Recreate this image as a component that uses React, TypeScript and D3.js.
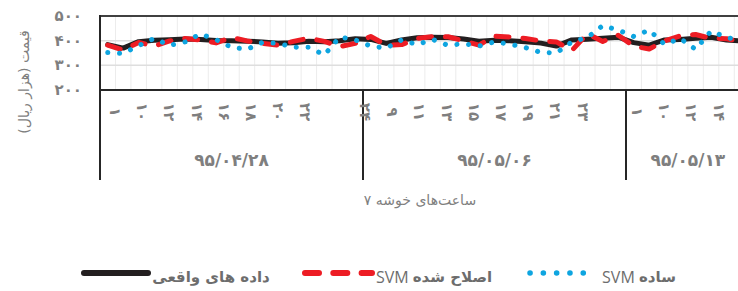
import React from "react";
import * as d3 from "d3";

// ---- data ----
const dates = ["۹۵/۰۴/۲۸", "۹۵/۰۵/۰۶", "۹۵/۰۵/۱۳"];
const hoursPerDate = [17, 17, 8];
const hourLabelsDay1 = ["۱", "۱۰", "۱۲", "۱۴", "۱۶", "۱۸", "۲۰", "۲۲"];
const hourLabelsDay2 = ["۲۴", "۹", "۱۱", "۱۳", "۱۵", "۱۷", "۱۹", "۲۱", "۲۳"];
const hourLabelsDay3 = ["۱", "۱۰", "۱۲", "۱۴"];
const yTicks = [200, 300, 400, 500];

const actual = [384, 370, 396, 402, 404, 407, 405, 401, 400, 398, 395, 390, 392, 398, 396, 400, 408, 405, 389, 403, 412, 414, 413, 407, 398, 402, 400, 396, 390, 378, 403, 406, 410, 414, 392, 382, 403, 405, 410, 414, 403, 398];
const svmCorrected = [382, 362, 393, 378, 399, 409, 403, 391, 413, 399, 389, 382, 397, 410, 397, 376, 389, 417, 382, 384, 409, 416, 416, 399, 382, 418, 415, 409, 399, 395, 360, 428, 397, 422, 378, 366, 399, 419, 425, 409, 408, 395];
const svmSimple = [352, 348, 380, 409, 381, 395, 427, 404, 373, 365, 393, 389, 374, 373, 342, 415, 403, 378, 370, 403, 384, 405, 381, 388, 378, 395, 386, 372, 352, 350, 395, 413, 461, 443, 417, 443, 385, 409, 365, 439, 413, 399];

const toFa = (n: number) => String(n).replace(/\d/g, (d) => "۰۱۲۳۴۵۶۷۸۹"[+d]);

// ---- layout ----
const W = 738, H = 291;
const plotLeft = 100, plotTop = 16, plotBottom = 90;
const catW = 15.47;
const labelStep = 27.2;
const labelStart = [15, 2, 11];
const gray = "#7f7f7f";
const arFont = "'DejaVu Sans', sans-serif";

export default function App() {
  const nCat = d3.sum(hoursPerDate);
  const x = d3.scaleLinear().domain([0, nCat]).range([plotLeft, plotLeft + nCat * catW]);
  const y = d3.scaleLinear().domain([200, 500]).range([plotBottom, plotTop]);
  const line = d3
    .line<number>()
    .x((_, i) => x(i + 0.5))
    .y((d) => y(d));

  const dayStarts: number[] = [];
  let acc = 0;
  hoursPerDate.forEach((n) => {
    dayStarts.push(acc);
    acc += n;
  });
  const hourLabels = [hourLabelsDay1, hourLabelsDay2, hourLabelsDay3];
  const plotRight = x(nCat);

  return (
    <svg width={W} height={H} style={{ position: "absolute", left: 0, top: 0, background: "#fff" }}>
      {/* vertical grid */}
      {d3.range(1, nCat).map((i) => (
        <line key={"vg" + i} x1={x(i)} x2={x(i)} y1={plotTop} y2={plotBottom} stroke="#ececec" strokeWidth={1} />
      ))}
      {/* horizontal grid */}
      {[300, 400].map((v) => (
        <line key={"hg" + v} x1={plotLeft} x2={plotRight} y1={y(v)} y2={y(v)} stroke="#dedede" strokeWidth={1.5} />
      ))}
      {/* frame */}
      <line x1={plotLeft} x2={plotRight} y1={plotTop} y2={plotTop} stroke="#404040" strokeWidth={2} />
      <line x1={plotLeft} x2={plotLeft} y1={plotTop - 1} y2={180} stroke="#262626" strokeWidth={2} />
      <line x1={plotLeft} x2={plotRight} y1={plotBottom} y2={plotBottom} stroke="#262626" strokeWidth={2} />
      {dayStarts.slice(1).map((s, i) => (
        <line key={"db" + i} x1={x(s)} x2={x(s)} y1={plotBottom} y2={180} stroke="#262626" strokeWidth={2} />
      ))}

      {/* y ticks */}
      {yTicks.map((v) => (
        <text key={"yt" + v} x={82} y={y(v)} textAnchor="end" dominantBaseline="central" fontFamily={arFont} fontWeight="bold" fontSize={15} fill={gray}>
          {toFa(v)}
        </text>
      ))}
      <text transform={`translate(24,82) rotate(-90)`} textAnchor="middle" dominantBaseline="central" fontFamily={arFont} fontSize={14} fill={gray} style={{ direction: "rtl" }}>
        قیمت (هزار ریال)
      </text>

      {/* series */}
      <path d={line(actual) || ""} fill="none" stroke="#231f20" strokeWidth={5} strokeLinejoin="round" strokeLinecap="round" />
      <path d={line(svmCorrected) || ""} fill="none" stroke="#ed1c24" strokeWidth={5} strokeDasharray="13 14" strokeLinejoin="round" strokeLinecap="round" />
      <path d={line(svmSimple) || ""} fill="none" stroke="#0ea5e0" strokeWidth={5} strokeDasharray="0.1 11.7" strokeLinejoin="round" strokeLinecap="round" />

      {/* hour labels */}
      {hourLabels.map((labels, di) =>
        labels.map((t, li) => {
          const lx = x(dayStarts[di]) + labelStart[di] + li * labelStep;
          return (
            <text key={`h${di}-${li}`} transform={`translate(${lx},112) rotate(90)`} textAnchor="middle" dominantBaseline="central" fontFamily={arFont} fontWeight="bold" fontSize={15} fill={gray}>
              {t}
            </text>
          );
        })
      )}
      {/* date labels */}
      {dates.map((d, i) => (
        <text key={"d" + i} x={(x(dayStarts[i]) + x(dayStarts[i] + hoursPerDate[i])) / 2} y={160} textAnchor="middle" dominantBaseline="central" fontFamily={arFont} fontWeight="bold" fontSize={17} fill={gray}>
          {d}
        </text>
      ))}
      {/* x title */}
      <text x={420} y={200} textAnchor="middle" dominantBaseline="central" fontFamily={arFont} fontSize={14} fill={gray} style={{ direction: "rtl" }}>
        ساعت‌های خوشه ۷
      </text>

      {/* legend */}
      <line x1={84} x2={148} y1={273} y2={273} stroke="#231f20" strokeWidth={6} strokeLinecap="round" />
      <text x={211} y={277} textAnchor="middle" dominantBaseline="central" fontFamily={arFont} fontWeight="bold" fontSize={15} fill="#6d6d6d">
        داده های واقعی
      </text>
      <line x1={305} x2={372} y1={273} y2={273} stroke="#ed1c24" strokeWidth={6} strokeDasharray="14 14.3" strokeLinecap="round" />
      <text x={434} y={277} textAnchor="middle" dominantBaseline="central" fontFamily={arFont} fontSize={15} fill="#6d6d6d">
        <tspan fontFamily="'Open Sans', sans-serif" fontSize={16}>SVM </tspan>
        <tspan fontWeight="bold">اصلاح شده</tspan>
      </text>
      <line x1={530} x2={584} y1={273} y2={273} stroke="#0ea5e0" strokeWidth={5.5} strokeDasharray="0.1 13.2" strokeLinecap="round" />
      <text x={639} y={277} textAnchor="middle" dominantBaseline="central" fontFamily={arFont} fontSize={15} fill="#6d6d6d">
        <tspan fontFamily="'Open Sans', sans-serif" fontSize={16}>SVM </tspan>
        <tspan fontWeight="bold">ساده</tspan>
      </text>
    </svg>
  );
}
